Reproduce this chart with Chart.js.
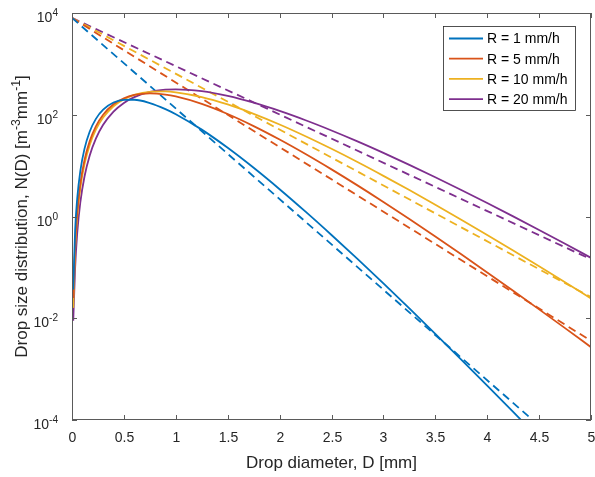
<!DOCTYPE html>
<html>
<head>
<meta charset="utf-8">
<script src="https://cdn.jsdelivr.net/npm/chart.js@4.4.1/dist/chart.umd.min.js"></script>
<style>
  html, body { margin: 0; padding: 0; background: #fff; }
  canvas { display: block; }
</style>
</head>
<body>
<canvas id="dsd" width="595" height="477" style="width:595px;height:477px"></canvas>
<script>
const diameters = [0.012, 0.03, 0.05, 0.08, 0.12, 0.17, 0.23, 0.3, 0.4, 0.5, 0.6, 0.75, 0.9, 1.0,
  1.25, 1.5, 1.75, 2.0, 2.25, 2.5, 2.75, 3.0, 3.25, 3.5, 3.75, 4.0, 4.25, 4.5, 4.75, 5.0];

// solid curves, N(D) in m^-3 mm^-1
const fitR1 = [0.0368, 0.53, 2.22, 7.8, 21.3, 46.4, 83.1, 126.2, 173.8, 196.9, 197.2, 169.8, 129.2, 102.6,
  51.0, 22.4, 9.06, 3.44, 1.243, 0.433, 0.1464, 0.0483, 0.0156, 0.00494, 0.00154, 0.000475, 0.0001445, 0.0000435, 0.000013, 0.00000385];
const fitR5 = [0.025, 0.267, 1.171, 4.35, 12.72, 30.0, 59.2, 100.1, 160.4, 211.0, 245.1, 263.0, 249.3, 228.9,
  163.7, 103.4, 59.9, 32.6, 16.9, 8.44, 4.09, 1.93, 0.891, 0.405, 0.181, 0.0796, 0.0347, 0.01495, 0.00639, 0.0027];
const fitR10 = [0.016, 0.224, 0.972, 3.6, 10.58, 25.3, 50.8, 88.1, 146.9, 201.8, 245.2, 281.9, 286.9, 276.4,
  223.1, 159.2, 104.4, 64.4, 37.8, 21.4, 11.77, 6.3, 3.31, 1.70, 0.865, 0.433, 0.214, 0.105, 0.0509, 0.0245];
const fitR20 = [0.0089, 0.0968, 0.463, 1.886, 6.05, 15.67, 33.9, 63.4, 115.3, 170.8, 222.1, 280.4, 310.9, 316.2,
  290.3, 233.9, 172.3, 118.8, 77.9, 49.1, 30.0, 17.83, 10.37, 5.92, 3.32, 1.84, 1.005, 0.543, 0.291, 0.154];

// dashed straight lines (exponential), end points
const expDiameters = [0, 5];
const expR1 = [8000, 0.00001];
const expR5 = [8000, 0.0036];
const expR10 = [8000, 0.026];
const expR20 = [8000, 0.144];

const rainLabels = ['R = 1 mm/h', 'R = 5 mm/h', 'R = 10 mm/h', 'R = 20 mm/h'];
const lineColors = ['#0072BD', '#D95319', '#EDB120', '#7E2F8E'];

const xTicks = [0, 0.5, 1, 1.5, 2, 2.5, 3, 3.5, 4, 4.5, 5];
const yTickExponents = [-4, -2, 0, 2, 4];

const fitSeries = [fitR1, fitR5, fitR10, fitR20];
const expSeries = [expR1, expR5, expR10, expR20];

const FONT = "'Liberation Sans', Arial, Helvetica, sans-serif";
const TEXT = '#262626';

function toPoints(xs, ys) {
  return xs.map((x, i) => ({ x: x, y: ys[i] }));
}

var datasets = [];
fitSeries.forEach((s, i) => {
  datasets.push({
    label: rainLabels[i],
    data: toPoints(diameters, s),
    borderColor: lineColors[i],
    borderWidth: 1.8,
    pointRadius: 0,
    cubicInterpolationMode: 'monotone',
    fill: false,
  });
});
expSeries.forEach((s, i) => {
  datasets.push({
    label: '',
    data: toPoints(expDiameters, s),
    borderColor: lineColors[i],
    borderWidth: 1.8,
    borderDash: [8, 5],
    pointRadius: 0,
    fill: false,
  });
});

// draws text pieces in a row, some of them as superscript
function drawParts(ctx, parts, x, y, size) {
  var cx = x;
  parts.forEach(p => {
    if (p.sup) {
      ctx.font = (size * 0.72) + 'px ' + FONT;
      ctx.fillText(p.t, cx, y - size * 0.42);
    } else {
      ctx.font = size + 'px ' + FONT;
      ctx.fillText(p.t, cx, y);
    }
    cx += ctx.measureText(p.t).width;
  });
}

function partsWidth(ctx, parts, size) {
  var w = 0;
  parts.forEach(p => {
    ctx.font = (p.sup ? size * 0.72 : size) + 'px ' + FONT;
    w += ctx.measureText(p.t).width;
  });
  return w;
}

const axesPlugin = {
  id: 'matlabAxes',
  afterDraw(chart) {
    const ctx = chart.ctx;
    const a = chart.chartArea;
    const x = chart.scales.x;
    const y = chart.scales.y;
    ctx.save();

    // box
    ctx.strokeStyle = '#5a5a5a';
    ctx.lineWidth = 1;
    ctx.strokeRect(Math.round(a.left) + 0.5, Math.round(a.top) + 0.5,
      Math.round(a.right - a.left) - 1, Math.round(a.bottom - a.top) - 1);

    // x ticks and labels
    ctx.fillStyle = TEXT;
    ctx.textAlign = 'center';
    ctx.textBaseline = 'middle';
    ctx.font = '14px ' + FONT;
    xTicks.forEach(v => {
      const px = Math.round(x.getPixelForValue(v)) + 0.5;
      ctx.beginPath();
      ctx.moveTo(px, a.bottom); ctx.lineTo(px, a.bottom - 5);
      ctx.moveTo(px, a.top); ctx.lineTo(px, a.top + 5);
      ctx.stroke();
      ctx.fillText(String(v), px, a.bottom + 18);
    });

    // y ticks and labels (10^n)
    ctx.textAlign = 'left';
    ctx.textBaseline = 'alphabetic';
    yTickExponents.forEach(e => {
      const py = Math.round(y.getPixelForValue(Math.pow(10, e))) + 0.5;
      ctx.beginPath();
      ctx.moveTo(a.left, py); ctx.lineTo(a.left + 5, py);
      ctx.moveTo(a.right, py); ctx.lineTo(a.right - 5, py);
      ctx.stroke();
      const parts = [{ t: '10' }, { t: String(e), sup: true }];
      const w = partsWidth(ctx, parts, 14);
      drawParts(ctx, parts, a.left - 14 - w, py + 8, 14);
    });

    // x title
    ctx.textAlign = 'center';
    ctx.textBaseline = 'middle';
    ctx.font = '17px ' + FONT;
    ctx.fillText('Drop diameter, D [mm]', (a.left + a.right) / 2, 463);

    // y title, rotated
    const yParts = [
      { t: 'Drop size distribution, N(D) [m' },
      { t: '-3', sup: true },
      { t: 'mm' },
      { t: '-1', sup: true },
      { t: ']' },
    ];
    ctx.save();
    ctx.translate(27, (a.top + a.bottom) / 2);
    ctx.rotate(-Math.PI / 2);
    ctx.textAlign = 'left';
    ctx.textBaseline = 'alphabetic';
    const tw = partsWidth(ctx, yParts, 17);
    drawParts(ctx, yParts, -tw / 2, 0, 17);
    ctx.restore();

    // legend box
    const lx = 443, ly = 26, lw = 132, lh = 84;
    ctx.fillStyle = '#fff';
    ctx.fillRect(lx, ly, lw, lh);
    ctx.strokeStyle = '#262626';
    ctx.lineWidth = 0.8;
    ctx.strokeRect(lx + 0.5, ly + 0.5, lw, lh);
    ctx.textAlign = 'left';
    ctx.textBaseline = 'middle';
    ctx.font = '14px ' + FONT;
    rainLabels.forEach((lab, i) => {
      const ry = ly + 12.5 + i * 20.2;
      ctx.strokeStyle = lineColors[i];
      ctx.lineWidth = 1.8;
      ctx.beginPath();
      ctx.moveTo(lx + 6, ry); ctx.lineTo(lx + 40, ry);
      ctx.stroke();
      ctx.fillStyle = '#000';
      ctx.fillText(lab, lx + 44, ry + 1);
    });

    ctx.restore();
  }
};

new Chart(document.getElementById('dsd'), {
  type: 'line',
  data: { datasets: datasets },
  options: {
    responsive: false,
    animation: false,
    layout: { padding: { left: 72, right: 4, top: 13, bottom: 57 } },
    plugins: {
      legend: { display: false },
      tooltip: { enabled: false },
    },
    scales: {
      x: { type: 'linear', min: 0, max: 5, display: false },
      y: { type: 'logarithmic', min: 0.0001, max: 10000, display: false },
    },
  },
  plugins: [axesPlugin],
});
</script>
</body>
</html>
